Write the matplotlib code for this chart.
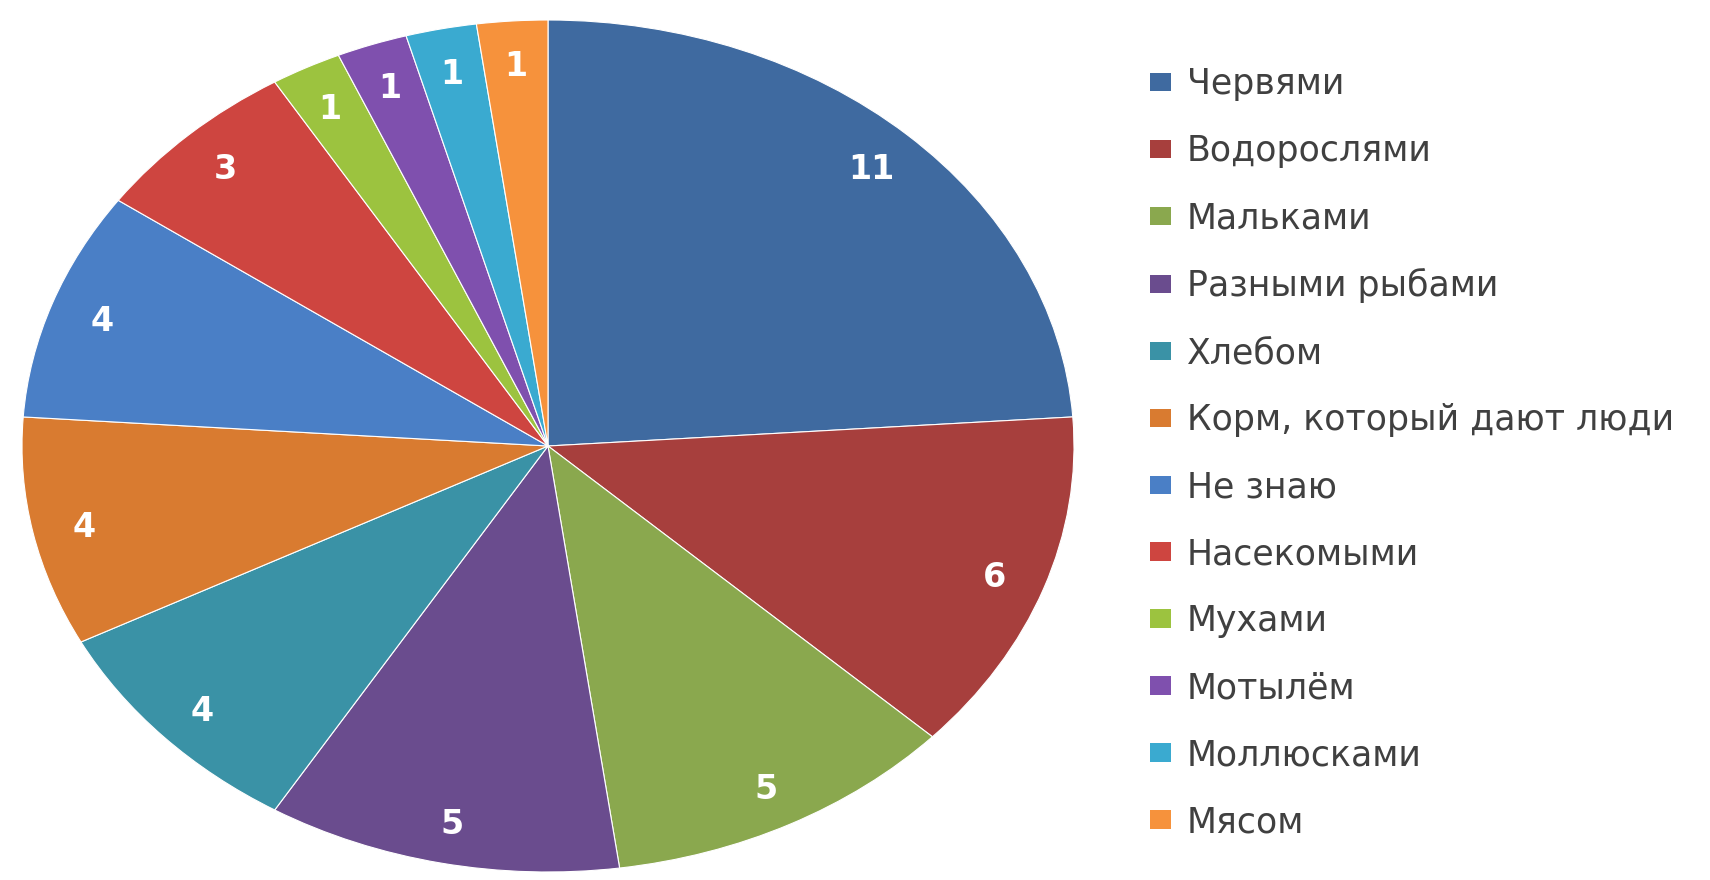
import matplotlib.pyplot as plt
from matplotlib.patches import Patch

categories = ['Червями', 'Водорослями', 'Мальками', 'Разными рыбами', 'Хлебом',
              'Корм, который дают люди', 'Не знаю', 'Насекомыми', 'Мухами',
              'Мотылём', 'Моллюсками', 'Мясом']
counts = [11, 6, 5, 5, 4, 4, 4, 3, 1, 1, 1, 1]
colors = ['#3F6AA0', '#A73F3D', '#8AA84E', '#6A4C8E', '#3A92A6', '#D97B30',
          '#4A7FC6', '#CE4540', '#9CC33F', '#7F50AE', '#3AAAD0', '#F6923C']

fig = plt.figure(figsize=(17.1, 8.8), dpi=100)
ax = fig.add_axes([22 / 1710, 8 / 880, 1052 / 1710, 852 / 880])

wedges, texts = ax.pie(counts, colors=colors, startangle=90, counterclock=False,
                       labels=[str(c) for c in counts], labeldistance=0.9,
                       wedgeprops=dict(edgecolor='white', linewidth=0.8))
for t in texts:
    t.set_color('white')
    t.set_fontweight('bold')
    t.set_fontsize(24)
    t.set_ha('center')
    t.set_va('center_baseline')
ax.set_aspect('auto')
ax.set_xlim(-1, 1)
ax.set_ylim(-1, 1)

handles = [Patch(facecolor=c, edgecolor='none') for c in colors]
leg = fig.legend(handles, categories, loc='upper left',
                 bbox_to_anchor=(1119 / 1710, 1 - 36 / 880),
                 frameon=False, fontsize=25, handlelength=0.6, handleheight=0.45,
                 handletextpad=0.45, labelspacing=0.95, labelcolor='#404040')

fig.savefig('out.png', dpi=100, facecolor='white')
